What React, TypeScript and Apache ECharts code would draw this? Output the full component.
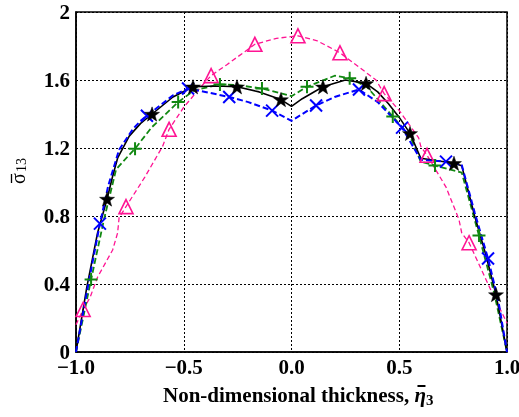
import React, { useEffect, useRef } from "react";
import * as echarts from "echarts";

// x positions (non-dimensional thickness) and stress values per curve
const blackLine: number[][] = [
  [-1, 0], [-0.95, 0.38], [-0.9, 0.7], [-0.856, 0.9], [-0.83, 1.034], [-0.806, 1.144], [-0.753, 1.27],
  [-0.7, 1.345], [-0.647, 1.4], [-0.55, 1.5], [-0.457, 1.56], [-0.35, 1.565], [-0.253, 1.56], [-0.15, 1.53],
  [-0.049, 1.485], [0, 1.445], [0.05, 1.49], [0.146, 1.56], [0.25, 1.6], [0.346, 1.58], [0.4, 1.53],
  [0.45, 1.46], [0.5, 1.38], [0.55, 1.286], [0.6, 1.14], [0.754, 1.11], [0.79, 1.095], [0.85, 0.8],
  [0.9, 0.58], [0.949, 0.338], [1, 0],
];
const blackMarks: number[][] = [
  [-0.856, 0.9], [-0.647, 1.4], [-0.457, 1.56], [-0.253, 1.56], [-0.049, 1.485], [0.146, 1.56],
  [0.346, 1.58], [0.55, 1.286], [0.754, 1.11], [0.949, 0.338],
];
const blueLine: number[][] = [
  [-1, 0], [-0.95, 0.35], [-0.889, 0.755], [-0.85, 0.98], [-0.8, 1.19], [-0.737, 1.31], [-0.7, 1.36],
  [-0.671, 1.39], [-0.6, 1.46], [-0.55, 1.51], [-0.48, 1.55], [-0.4, 1.53], [-0.289, 1.5],
  [-0.2, 1.47], [-0.09, 1.42], [0, 1.36], [0.114, 1.45], [0.2, 1.5], [0.313, 1.544], [0.4, 1.47],
  [0.513, 1.32], [0.6, 1.13], [0.717, 1.12], [0.79, 1.1], [0.85, 0.82], [0.912, 0.55], [0.96, 0.3],
  [1, 0],
];
const blueMarks: number[][] = [
  [-0.889, 0.755], [-0.671, 1.39], [-0.48, 1.55], [-0.289, 1.5], [-0.09, 1.42], [0.114, 1.45],
  [0.313, 1.544], [0.513, 1.32], [0.717, 1.12], [0.912, 0.55],
];
const greenLine: number[][] = [
  [-1, 0], [-0.93, 0.426], [-0.87, 0.78], [-0.814, 1.074], [-0.76, 1.15],
  [-0.726, 1.196], [-0.65, 1.32], [-0.6, 1.38], [-0.526, 1.47], [-0.45, 1.54], [-0.332, 1.574],
  [-0.25, 1.57], [-0.137, 1.55], [0, 1.505], [0.072, 1.56], [0.2, 1.625], [0.27, 1.61],
  [0.35, 1.56], [0.47, 1.385], [0.55, 1.27], [0.6, 1.12], [0.666, 1.097], [0.79, 1.055],
  [0.87, 0.685], [0.94, 0.35], [1, 0],
];
const greenMarks: number[][] = [
  [-0.93, 0.426], [-0.726, 1.196], [-0.526, 1.47], [-0.332, 1.574], [-0.137, 1.55], [0.072, 1.56],
  [0.27, 1.61], [0.47, 1.385], [0.666, 1.097], [0.87, 0.685],
];
const pinkLine: number[][] = [
  [-1, 0.16], [-0.967, 0.25], [-0.935, 0.32], [-0.9, 0.44], [-0.83, 0.6], [-0.807, 0.7],
  [-0.8, 0.79], [-0.768, 0.855], [-0.68, 1.03], [-0.598, 1.21], [-0.568, 1.31], [-0.5, 1.44],
  [-0.42, 1.56], [-0.373, 1.626], [-0.3, 1.69], [-0.17, 1.81], [-0.07, 1.845], [0.03, 1.86],
  [0.12, 1.83], [0.225, 1.76], [0.33, 1.66], [0.392, 1.6], [0.43, 1.52], [0.5, 1.42], [0.59, 1.26],
  [0.6, 1.21], [0.629, 1.157], [0.717, 0.97], [0.74, 0.897], [0.777, 0.78], [0.79, 0.7],
  [0.824, 0.643], [0.93, 0.35], [1, 0.17],
];
const pinkMarks: number[][] = [
  [-0.967, 0.25], [-0.768, 0.855], [-0.568, 1.31], [-0.373, 1.626], [-0.17, 1.81], [0.03, 1.86],
  [0.225, 1.76], [0.43, 1.52], [0.629, 1.157], [0.824, 0.643],
];
const xTicks = [-1, -0.5, 0, 0.5, 1];
const yTicks = [0, 0.4, 0.8, 1.2, 1.6, 2];
const xTitle = "Non-dimensional thickness, ";
const yTitle = "σ";
const yTitleSub = "13";
const xTitleSym = "η";
const xTitleSub = "3";

function starPath(): string {
  const pts: string[] = [];
  for (let i = 0; i < 10; i++) {
    const r = i % 2 === 0 ? 10 : 4;
    const a = -Math.PI / 2 + (i * Math.PI) / 5;
    pts.push(`${(10 + r * Math.cos(a)).toFixed(2)},${(10 + r * Math.sin(a)).toFixed(2)}`);
  }
  return "path://M" + pts.join("L") + "Z";
}

const FONT = "'Liberation Serif', 'Times New Roman', serif";

function measure(text: string, font: string): number {
  const c = document.createElement("canvas").getContext("2d");
  if (!c) return text.length * 10;
  c.font = font;
  return c.measureText(text).width;
}

export default function App() {
  const ref = useRef<HTMLDivElement>(null);
  useEffect(() => {
    if (!ref.current) return;
    const chart = echarts.init(ref.current, null, { renderer: "svg" });
    const lineS = (data: number[][], color: string, type: any, width: number, z: number) => ({
      type: "line",
      data,
      showSymbol: false,
      symbol: "none",
      smooth: false,
      z,
      lineStyle: { color, type, width },
    });
    const markS = (data: number[][], symbol: string, size: number, fill: string, stroke: string, bw: number, z: number) => ({
      type: "scatter",
      data,
      symbol,
      symbolSize: size,
      symbolKeepAspect: true,
      z,
      itemStyle: { color: fill, borderColor: stroke, borderWidth: bw, opacity: 1 },
    });

    const titleX0 = 163;
    const titleMidY = 395;
    const w1 = measure(xTitle, `bold 21px ${FONT}`);
    const wEta = measure(xTitleSym, `italic bold 21px ${FONT}`);
    const etaX = titleX0 + w1;

    chart.setOption({
      animation: false,
      grid: {
        left: 76, right: 12, top: 12, bottom: 65, show: true, borderColor: "#000", borderWidth: 1.5,
        backgroundColor: "transparent", containLabel: false, outerBoundsMode: "none",
      },
      xAxis: {
        type: "value",
        min: -1,
        max: 1,
        interval: 0.5,
        axisLine: { show: true, onZero: false, lineStyle: { color: "#000", width: 1.5 } },
        axisTick: { show: false },
        splitLine: { show: true, lineStyle: { color: "#000", type: [2, 2], width: 1 } },
        axisLabel: {
          color: "#000",
          fontFamily: FONT,
          fontWeight: "bold",
          fontSize: 21,
          margin: 4,
          hideOverlap: false,
          formatter: (v: number) => {
            const t = xTicks.find((x) => Math.abs(x - v) < 1e-6);
            if (t === undefined) return "";
            return t < 0 ? "\u2212" + Math.abs(t).toFixed(1) : t.toFixed(1);
          },
        },
      },
      yAxis: {
        type: "value",
        min: 0,
        max: 2,
        interval: 0.4,
        axisLine: { show: true, onZero: false, lineStyle: { color: "#000", width: 1.5 } },
        axisTick: { show: false },
        splitLine: { show: true, lineStyle: { color: "#000", type: [2, 2], width: 1 } },
        axisLabel: {
          color: "#000",
          fontFamily: FONT,
          fontWeight: "bold",
          fontSize: 21,
          margin: 6,
          formatter: (v: number) => {
            const t = yTicks.find((y) => Math.abs(y - v) < 1e-6);
            if (t === undefined) return "";
            return t === 0 || t === 2 ? String(t) : t.toFixed(1);
          },
        },
      },
      graphic: [
        {
          type: "group",
          x: 17.5,
          y: 171,
          rotation: Math.PI / 2,
          children: [
            {
              type: "text",
              x: -13,
              y: 0,
              style: { text: yTitle, font: `20px ${FONT}`, fill: "#000", align: "left", verticalAlign: "middle" },
            },
            {
              type: "text",
              x: -1,
              y: 4,
              style: { text: yTitleSub, font: `14px ${FONT}`, fill: "#000", align: "left", verticalAlign: "middle" },
            },
            {
              type: "line",
              shape: { x1: -12, y1: -6, x2: -3, y2: -6 },
              style: { stroke: "#000", lineWidth: 1.3 },
            },
          ],
        },
        {
          type: "text",
          x: titleX0,
          y: titleMidY,
          style: { text: xTitle, font: `bold 21px ${FONT}`, fill: "#000", align: "left", verticalAlign: "middle" },
        },
        {
          type: "text",
          x: etaX,
          y: titleMidY,
          style: { text: xTitleSym, font: `italic bold 21px ${FONT}`, fill: "#000", align: "left", verticalAlign: "middle" },
        },
        {
          type: "text",
          x: etaX + wEta,
          y: titleMidY + 5,
          style: { text: xTitleSub, font: `bold 15px ${FONT}`, fill: "#000", align: "left", verticalAlign: "middle" },
        },
        {
          type: "line",
          shape: { x1: etaX + 3, y1: 386, x2: etaX + 11, y2: 386 },
          style: { stroke: "#000", lineWidth: 2 },
        },
      ],
      series: [
        lineS(pinkLine, "#ff1493", [5, 3], 1.3, 2),
        lineS(greenLine, "#118811", [6, 3], 1.8, 3),
        lineS(blackLine, "#000000", "solid", 1.6, 4),
        lineS(blueLine, "#0000ff", [6, 3], 2, 5),
        markS(pinkMarks, "triangle", 14, "none", "#ff1493", 1.6, 6),
        markS(greenMarks, "path://M5,0L5,10M0,5L10,5", 13, "none", "#118811", 2, 7),
        markS(blueMarks, "path://M0,0L10,10M10,0L0,10", 12, "none", "#0000ff", 2, 8),
        markS(blackMarks, starPath(), 15, "#000", "#000", 0.5, 9),
      ],
    });
    return () => chart.dispose();
  }, []);
  return <div ref={ref} style={{ position: "fixed", left: 0, top: 0, width: 519, height: 417 }} />;
}
